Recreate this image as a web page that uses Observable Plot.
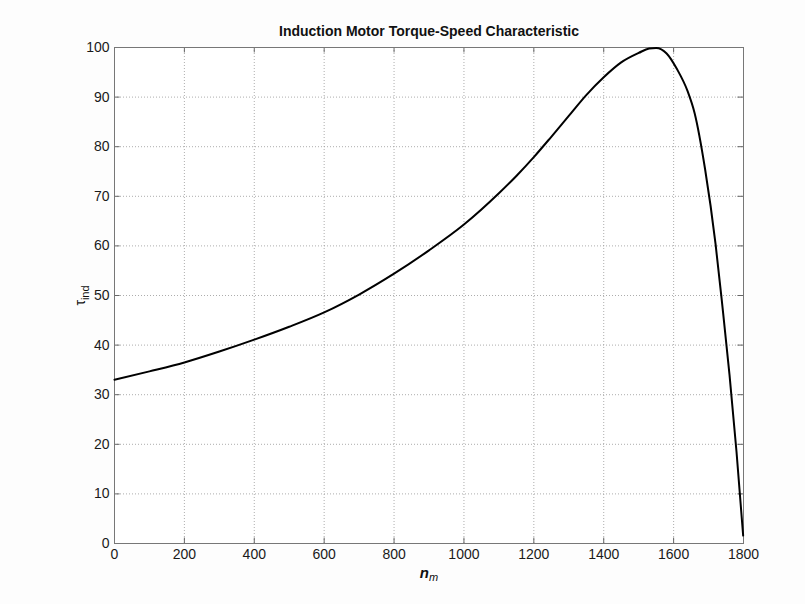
<!DOCTYPE html>
<html>
<head>
<meta charset="utf-8">
<script src="https://cdn.jsdelivr.net/npm/d3@7"></script>
<script src="https://cdn.jsdelivr.net/npm/@observablehq/plot@0.6"></script>
<style>
  body { margin: 0; background: #fdfdfd; }
  #chart svg { display: block; }
</style>
</head>
<body>
<div id="chart"></div>
<script>
const titleText = "Induction Motor Torque-Speed Characteristic";
const speeds = [0,100,200,300,400,500,600,700,800,900,1000,1100,1150,1200,1250,1300,1350,1400,1450,1500,1530,1550,1580,1610,1640,1660,1690,1720,1740,1760,1780,1799];
const torque = [33.0,34.7,36.5,38.7,41.1,43.7,46.6,50.2,54.4,59.1,64.3,70.6,74.1,77.9,82.0,86.2,90.4,94.0,97.0,98.9,99.8,99.9,98.8,95.6,91.2,86.8,75.5,60.4,47.6,34.0,18.5,1.6];
const xTicks = [0,200,400,600,800,1000,1200,1400,1600,1800];
const yTicks = [0,10,20,30,40,50,60,70,80,90,100];

const data = speeds.map((n, i) => ({n, t: torque[i]}));
const font = "'Liberation Sans', Arial, Helvetica, sans-serif";

const chart = Plot.plot({
  width: 805,
  height: 604,
  marginLeft: 114,
  marginRight: 62,
  marginTop: 47,
  marginBottom: 61,
  style: {fontFamily: font, fontSize: "14px", color: "#1a1a1a", background: "#fdfdfd"},
  x: {domain: [0, 1800], ticks: xTicks},
  y: {domain: [0, 100], ticks: yTicks},
  marks: [
    Plot.frame({fill: "white", stroke: "none"}),
    Plot.gridX(xTicks.slice(1, -1), {stroke: "#999", strokeOpacity: 0.8, strokeDasharray: "1,2"}),
    Plot.gridY(yTicks.slice(1, -1), {stroke: "#999", strokeOpacity: 0.8, strokeDasharray: "1,2"}),
    // inward ticks
    Plot.ruleX(xTicks, {y1: 0, y2: 1.1, stroke: "#666"}),
    Plot.ruleX(xTicks, {y1: 98.9, y2: 100, stroke: "#666"}),
    Plot.ruleY(yTicks, {x1: 0, x2: 16, stroke: "#666"}),
    Plot.ruleY(yTicks, {x1: 1784, x2: 1800, stroke: "#666"}),
    Plot.frame({stroke: "#777"}),
    Plot.axisX(xTicks, {tickSize: 0, tickPadding: 6, label: null, fontSize: 14, tickFormat: d3.format("d")}),
    Plot.axisY(yTicks, {tickSize: 0, tickPadding: 5, label: null, fontSize: 14, tickFormat: d3.format("d")}),
    Plot.line(data, {x: "n", y: "t", stroke: "black", strokeWidth: 2, curve: "monotone-x"}),
    Plot.text([titleText], {frameAnchor: "top", lineAnchor: "middle", dy: -16, fontWeight: "bold", fontSize: 14, fill: "#111"}),
    Plot.text(["TAU_LABEL"], {frameAnchor: "left", textAnchor: "middle", lineAnchor: "middle", dx: -34, rotate: -90, fontSize: 14, fill: "#111"}),
    Plot.text(["NM_LABEL"], {frameAnchor: "bottom", dy: 34, fontSize: 15, fill: "#111"})
  ]
});

d3.select(chart).selectAll("text").each(function() {
  const el = d3.select(this);
  const txt = this.textContent;
  if (txt === "TAU_LABEL") {
    el.text(null);
    el.append("tspan").text("τ");
    el.append("tspan").attr("dy", "0.35em").attr("font-size", "11px").text("ind");
  } else if (txt === "NM_LABEL") {
    el.text(null);
    el.append("tspan").attr("font-style", "italic").attr("font-weight", "bold").text("n");
    el.append("tspan").attr("dy", "0.35em").attr("font-style", "italic").attr("font-size", "11px").text("m");
  }
});

document.getElementById("chart").appendChild(chart);
</script>
</body>
</html>
